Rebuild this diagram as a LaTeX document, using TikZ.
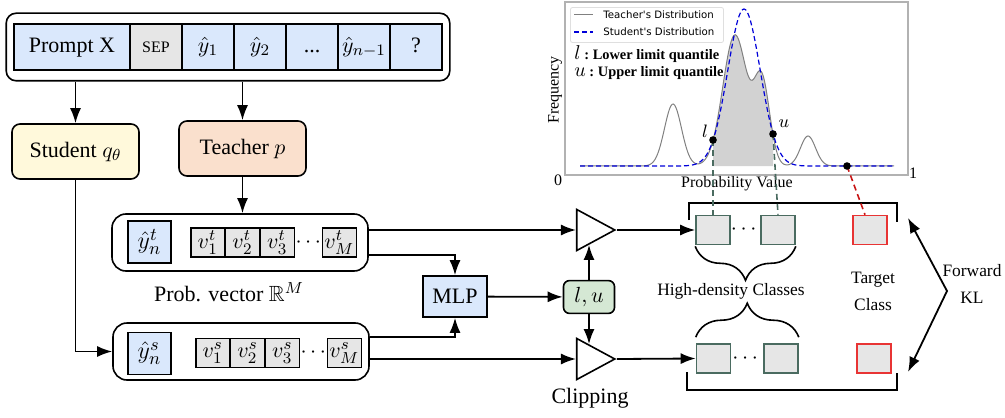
\documentclass[tikz,border=0pt]{standalone}
\usepackage{amsmath, amssymb}
\usepackage[no-math]{fontspec}
\setmainfont{Liberation Serif}
\newfontfamily\legendfont{DejaVu Sans}
\usepackage{tikz}
\usetikzlibrary{calc, positioning, arrows.meta, shapes.geometric, matrix, decorations.pathreplacing}
\definecolor{tokblue}{RGB}{218,232,252}
\definecolor{cellgray}{RGB}{230,230,230}
\definecolor{studyellow}{RGB}{255,249,219}
\definecolor{teachpeach}{RGB}{250,224,205}
\definecolor{qgreen}{RGB}{213,232,212}
\definecolor{hdgreen}{RGB}{74,107,96}
\definecolor{tgtred}{RGB}{232,52,52}
\definecolor{tgtdash}{RGB}{200,20,20}
\tikzset{
    tokrow/.style={
        matrix of nodes,
        nodes={
            draw=black,
            thick,
            sharp corners,
            fill=tokblue,
            minimum width=26pt,
            minimum height=23pt,
            text height=7.5pt,
            text depth=2.5pt,
            inner sep=0.5pt,
            anchor=center
        },
        column sep=-\pgflinewidth,
        draw=black,
        thick,
        rounded corners=5pt,
        inner xsep=3.5pt,
        inner ysep=5pt
    },
    vrow/.style={
        matrix of math nodes,
        nodes={
            draw=black,
            thick,
            sharp corners,
            fill=cellgray,
            minimum width=17pt,
            minimum height=14.5pt,
            inner sep=0.5pt,
            anchor=center
        },
        column sep=-\pgflinewidth,
        inner sep=0pt
    },
    dotcell/.style={draw=none, fill=none, minimum width=14pt},
    ycell/.style={rectangle, draw=black, thick, fill=tokblue, minimum width=21.5pt, minimum height=21pt, inner sep=0pt, font=\fontsize{13}{14}\selectfont},
    vecbox/.style={rectangle, draw=black, thick, rounded corners=7pt, minimum width=128pt, minimum height=28.5pt},
    model/.style={rectangle, draw=black, thick, rounded corners=4pt, minimum width=63.5pt, minimum height=27.5pt},
    mlpbox/.style={rectangle, draw=black, thick, fill=tokblue, minimum width=32pt, minimum height=20.5pt},
    qbox/.style={rectangle, draw=black, thick, rounded corners=3pt, fill=qgreen, minimum width=25.5pt, minimum height=15pt},
    clipper/.style={isosceles triangle, isosceles triangle stretches, draw=black, thick, fill=white, minimum width=20.5pt, minimum height=19pt, inner sep=0pt},
    hdbox/.style={rectangle, draw=hdgreen, thick, fill=cellgray, minimum width=17pt, minimum height=14.5pt, inner sep=0pt},
    tgtbox/.style={hdbox, draw=tgtred},
    smalltxt/.style={font=\fontsize{8.7}{13.5}\selectfont},
    plotlab/.style={font=\fontsize{8}{9}\selectfont, inner sep=0pt},
    pdot/.style={circle, fill=black, inner sep=0pt, minimum size=3.8pt},
    arrow/.style={-{Latex[length=7.5pt,width=5.5pt]}, line width=0.9pt},
    dblarrow/.style={{Latex[length=7.5pt,width=5.5pt]}-{Latex[length=7.5pt,width=5.5pt]}, line width=0.9pt},
    hddash/.style={draw=hdgreen, line width=0.8pt, dash pattern=on 3pt off 2pt},
    tgdash/.style={draw=tgtdash, line width=0.8pt, dash pattern=on 3pt off 2pt},
    teachline/.style={draw=gray, line width=0.5pt},
    studline/.style={draw=blue!85!black, line width=0.6pt, dash pattern=on 2.5pt off 1.5pt}
}

\begin{document}
\begin{tikzpicture}[x=0.5pt, y=-0.5pt, font=\fontsize{11}{13}\selectfont,
    declare function={
        gau(\x,\m,\s)=exp(max(-15,-0.5*((\x-\m)/\s)^2));
        tdist(\x)=166-62*gau(\x,673,8.5)-131*gau(\x,735,12.2)-82*gau(\x,762,7.8)-30*gau(\x,808,7.5);
        sdist(\x)=166-157*gau(\x,744,16.3);
    }]
    \useasboundingbox (0,0) rectangle (1005,417);

    % Input sequence
    \matrix[tokrow] (prompt) at (228,47) {
        |[minimum width=58pt]| Prompt X & |[fill=cellgray, font=\fontsize{8}{9}\selectfont]| SEP & $\hat{y}_1$ & $\hat{y}_2$ & ... & $\hat{y}_{n-1}$ & ? \\
    };

    % Models
    \node[model, fill=studyellow] (stud) at (75.5,151.5) {Student $q_\theta$};
    \node[model, fill=teachpeach] (teach) at (242.5,148.5) {Teacher $p$};
    \draw[arrow] (stud.north |- prompt.south) -- (stud.north);
    \draw[arrow] (teach.north |- prompt.south) -- (teach.north);

    % Probability vectors
    \node[vecbox] (tvec) at (240,242.5) {};
    \node[ycell] (yt) at (149.5,242) {$\hat{y}_n^t$};
    \matrix[vrow] (vt) at (273.5,242.5) {
        v_1^t & v_2^t & v_3^t & |[dotcell]| \cdots & v_M^t \\
    };
    \node (pvlab) at (229,292) {Prob. vector $\mathbb{R}^M$};

    \node[vecbox] (svec) at (241,351.5) {};
    \node[ycell] (ys) at (149.5,353.5) {$\hat{y}_n^s$};
    \matrix[vrow] (vs) at (278.5,353) {
        v_1^s & v_2^s & v_3^s & |[dotcell]| \cdots & v_M^s \\
    };

    \draw[arrow] (teach.south) -- (teach.south |- tvec.north);
    \draw[arrow] (stud.south) |- (svec.west);

    % MLP, quantiles and clipping
    \node[mlpbox] (mlp) at (455,296.5) {MLP};
    \node[qbox] (lu) at (589,297) {$l, u$};
    \node[clipper] (clipT) at (589,230) {};
    \node[clipper] (clipB) at (589,359) {};
    \node (cliplab) at (590,398) {Clipping};

    \draw[arrow] ($(tvec.east)+(0,12.5)$) -| (mlp.north);
    \draw[arrow] ($(svec.east)+(0,-14.5)$) -| (mlp.south);
    \draw[arrow] (mlp) -- (lu);
    \draw[arrow] (lu) -- (clipT.south);
    \draw[arrow] (lu) -- (clipB.north);
    \draw[arrow] (clipT.west -| tvec.east) -- (clipT.west);
    \draw[arrow] (clipB.west -| svec.east) -- (clipB.west);

    % Class boxes
    \node[hdbox] (h1) at (713,230) {};
    \node[hdbox] (h2) at (778,230) {};
    \node (hdots1) at (745.5,230) {$\cdots$};
    \node[tgtbox] (t1) at (870,230) {};
    \node[hdbox] (h3) at (713.5,358.5) {};
    \node[hdbox] (h4) at (781,358.5) {};
    \node (hdots2) at (747,358.5) {$\cdots$};
    \node[tgtbox] (t2) at (874,358.5) {};
    \draw[arrow] (clipT.east) -- (h1.west);
    \draw[arrow] (clipB.east) -- (h3.west);

    \draw[thick] (689,220) -- (689,203) -- (897,203) -- (897,222);
    \draw[thick] (687,372) -- (687,390) -- (897,390) -- (897,373);
    \draw[thick, decorate, decoration={brace, mirror, amplitude=17pt, raise=0.5pt}] (h1.south west) -- (h2.south east);
    \draw[thick, decorate, decoration={brace, amplitude=17pt, raise=3pt}] (h3.north west) -- (h4.north east);
    \node[smalltxt] (hdlab) at (731,291) {High-density Classes};
    \node[smalltxt, align=center] (tclab) at (873,291) {Target\\Class};
    \node[smalltxt, align=center] (kllab) at (972,283.5) {Forward\\KL};

    \coordinate (klT) at (908,218);
    \coordinate (klC) at (947,291);
    \coordinate (klB) at (908,372);
    \draw[dblarrow] (klT) -- (klC) -- (klB);

    % Distribution plot
    \draw[draw=gray!60, line width=0.6pt] (565,2) rectangle (908,175);
    \fill[gray!35] plot[domain=713:773, samples=60] (\x,{tdist(\x)}) -- (773,166) -- (713,166) -- cycle;
    \draw[teachline] plot[domain=580:894, samples=260] (\x,{tdist(\x)});
    \draw[studline] plot[domain=580:894, samples=200] (\x,{sdist(\x)});

    \node[draw=gray!25, fill=white, rounded corners=1pt, minimum width=76.5pt, minimum height=17.5pt] (leg) at (647,25) {};
    \draw[teachline] (574,15) -- (593,15);
    \draw[studline] (574,32) -- (593,32);
    \node[anchor=west, inner sep=0pt, font=\legendfont\fontsize{5.1}{6}\selectfont] (legT) at (603,15) {Teacher's Distribution};
    \node[anchor=west, inner sep=0pt, font=\legendfont\fontsize{5.1}{6}\selectfont] (legS) at (603,32) {Student's Distribution};
    \node[anchor=west, inner sep=0pt, font=\fontsize{7.2}{8}\selectfont\bfseries] (qlow) at (574,54) {{\fontsize{10}{10}\selectfont$l$}~:~Lower limit quantile};
    \node[anchor=west, inner sep=0pt, font=\fontsize{7.2}{8}\selectfont\bfseries] (qupp) at (574,73) {{\fontsize{10}{10}\selectfont$u$}~:~Upper limit quantile};

    \node[plotlab] (xlab) at (737,184) {Probability Value};
    \node[plotlab] (x0) at (558,180) {0};
    \node[plotlab] (x1) at (913,173) {1};
    \node[plotlab, rotate=90] (ylab) at (555,90) {Frequency};

    \draw[hddash] (713,140) -- (h1.north);
    \draw[hddash] (773,134) -- (h2.north);
    \draw[tgdash] (847,166) -- ([xshift=-2.5pt]t1.north);
    \node[pdot] (lpt) at (713,140) {};
    \node[pdot] (upt) at (773,134) {};
    \node[pdot] (tgt) at (847,166) {};
    \node[font=\fontsize{9.5}{10}\selectfont] (llab) at (705,131) {$l$};
    \node[font=\fontsize{9.5}{10}\selectfont] (ulab) at (784,124) {$u$};
\end{tikzpicture}
\end{document}
